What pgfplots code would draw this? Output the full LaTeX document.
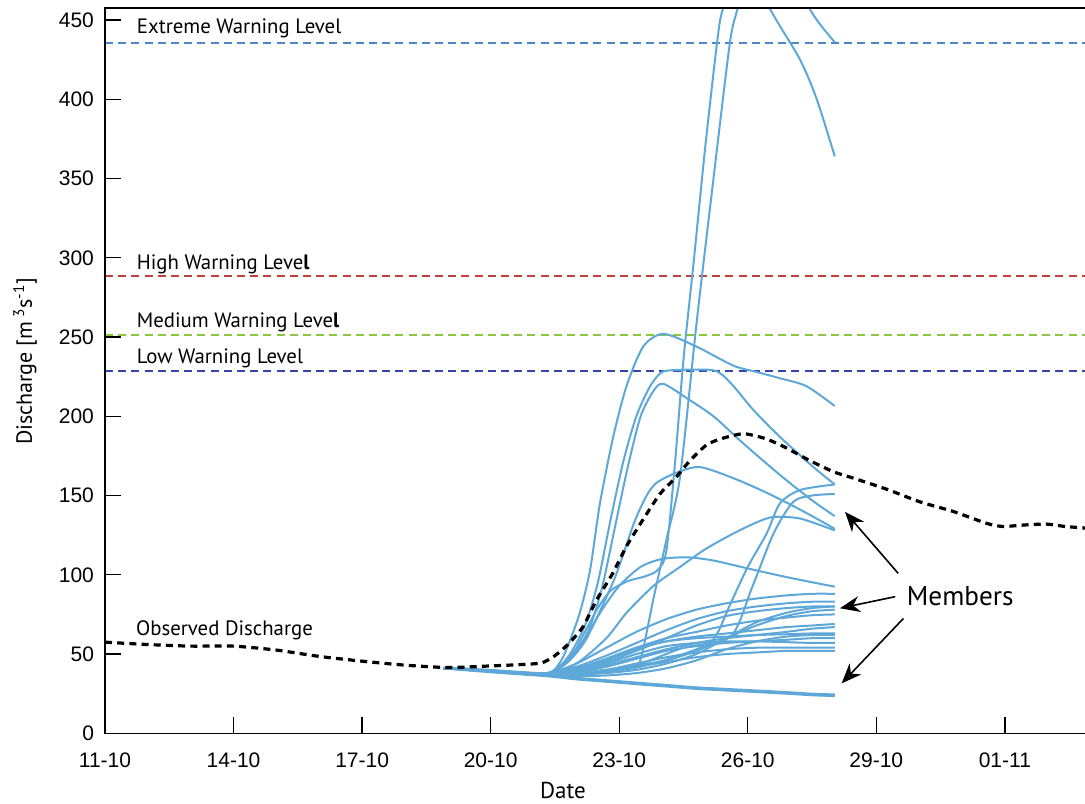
\documentclass[border=0pt]{standalone}
\usepackage{fontspec}
\setmainfont{Liberation Sans}
\newfontfamily\lab{PT Sans}
\usepackage{pgfplots}
\pgfplotsset{compat=1.18}
\usetikzlibrary{arrows.meta,calc}

\definecolor{member}{RGB}{93,168,216}
\definecolor{lvextreme}{RGB}{74,134,200}
\definecolor{lvhigh}{RGB}{192,64,64}
\definecolor{lvmedium}{RGB}{140,198,63}
\definecolor{lvlow}{RGB}{52,68,168}

\pgfplotsset{
  mem/.style={member, line width=1pt, smooth, tension=0.45, no marks},
  level/.style={line width=1pt, dash pattern=on 4pt off 2.6pt, no marks},
}

\begin{document}
\begin{tikzpicture}
\begin{axis}[
  scale only axis, width=490pt, height=362.5pt,
  xmin=0, xmax=22.87, ymin=0, ymax=457.4,
  axis line style={draw=none},
  tick align=inside, tick pos=left,
  major tick length=8pt,
  tick style={black, line width=0.7pt},
  xtick={0,3,6,9,12,15,18,21},
  xticklabels={11-10,14-10,17-10,20-10,23-10,26-10,29-10,01-11},
  ytick={0,50,100,150,200,250,300,350,400,450},
  yticklabels={0,50,100,150,200,250,300,350,400,450},
  x tick label style={font=\fontsize{10.5}{12}\selectfont, yshift=-6pt},
  y tick label style={font=\fontsize{10.5}{12}\selectfont, xshift=-2pt},
]
% warning levels
\addplot[level, lvextreme] coordinates {(0,435.5) (22.87,435.5)};
\addplot[level, lvhigh]    coordinates {(0,288.3) (22.87,288.3)};
\addplot[level, lvmedium]  coordinates {(0,251.5) (22.87,251.5)};
\addplot[level, lvlow]     coordinates {(0,228.6) (22.87,228.6)};

% ensemble members
\addplot[mem] coordinates {(7.9,41.5)(9,40)(10.3,38)(10.6,44)(10.8,55)(11.08,76)(11.32,103)(11.55,145)(11.86,187)(12.17,219)(12.56,244)(13.03,252)(13.8,244)(14.66,232)(15.2,228)(15.75,224)(16.37,219)(17.03,206.5)};
\addplot[mem] coordinates {(7.9,41)(9,39.5)(10.3,37.5)(10.8,48)(11.2,68)(11.5,95)(11.8,135)(12.1,172)(12.4,200)(12.7,218)(12.95,227)(13.2,229)(14.2,229)(14.6,221)(15.13,204)(15.75,187)(16.53,168)(17.03,157)};
\addplot[mem] coordinates {(7.9,41)(9,39.5)(10.3,37.5)(10.9,48)(11.3,66)(11.6,92)(11.9,130)(12.2,168)(12.5,200)(12.8,216)(13.03,220.5)(13.6,211)(14.2,200)(14.85,184)(15.75,163)(16.5,147)(17.03,137)};
\addplot[mem] coordinates {(7.9,41)(9,39.5)(10.3,37.5)(10.8,45)(11.2,58)(11.6,80)(11.94,101)(12.35,133)(12.64,150)(12.87,158)(13.3,164)(13.87,168)(14.66,161)(15.5,151)(16.3,140)(17.03,129)};
\addplot[mem] coordinates {(7.9,41)(9,39.5)(10.3,37.5)(10.9,50)(11.2,64)(11.5,79)(11.8,90)(12.2,96)(12.6,99)(12.9,103)(13.1,115)(13.3,170)(13.5,236)(13.74,298)(14.0,368)(14.28,435)(14.42,457)(14.9,488)(15.2,480)(15.52,457)(16.22,425)(16.61,400)(17.03,364)};
\addplot[mem] coordinates {(7.9,41)(9,39.5)(10.3,37)(11,38)(11.7,40)(12.2,41)(12.48,45)(12.8,85)(13.1,122)(13.42,162)(13.81,260)(14.2,350)(14.58,435)(14.76,457)(15.2,500)(15.7,512)(16.1,490)(16.45,457)(17.03,436)};
\addplot[mem] coordinates {(7.9,41)(9,39.5)(10.3,37.5)(10.8,46)(11.2,60)(11.6,78)(12.0,93)(12.5,105)(13.0,110)(13.6,111)(14.2,109)(15.0,104)(16.0,98)(17.03,92.5)};
\addplot[mem] coordinates {(7.9,41)(9,39.5)(10.3,37)(11.5,38)(12.5,42)(13.5,50)(14.19,59)(14.6,82)(15.0,105)(15.44,126)(15.75,145)(16.22,153.5)(17.03,157)};
\addplot[mem] coordinates {(7.9,41)(9,39.5)(10.3,37)(11.5,38.5)(12.5,44)(13.5,54)(14.6,61)(15.1,92)(15.6,126)(16.06,146)(16.5,150)(17.03,151)};
\addplot[mem] coordinates {(7.9,41)(9,39.5)(10.3,37.5)(11,44)(11.7,60)(12.17,76)(12.8,93)(13.42,105)(14.0,116)(14.66,126)(15.2,133)(15.6,136.5)(16.22,135.5)(17.03,128)};
\addplot[mem] coordinates {(7.9,41)(9,39)(10.3,36.5)(11,35)(11.7,33.5)(12.4,32)(13.1,30.5)(13.8,29)(14.5,28)(15.2,27)(15.9,26)(16.5,25)(17.03,24.5)};
\addplot[mem] coordinates {(7.9,41)(9,38.5)(10.3,36)(11,34)(11.7,32.5)(12.4,31)(13.1,29.5)(13.8,28)(14.5,27)(15.2,26)(15.9,25)(16.5,24)(17.03,23.5)};
\addplot[mem] coordinates {(7.9,41)(9,39.5)(10.3,38)(11,44)(11.7,54)(12.4,64)(13.1,72)(13.8,78)(14.5,82)(15.2,85)(15.9,87)(16.5,88)(17.03,88)};
\addplot[mem] coordinates {(7.9,41)(9,39.5)(10.3,38)(11,42)(11.7,49)(12.4,57)(13.1,65)(13.8,72)(14.5,77)(15.2,80)(15.9,82)(16.5,83)(17.03,83)};
\addplot[mem] coordinates {(7.9,41)(9,39.5)(10.3,37.5)(11,40)(11.7,45)(12.4,52)(13.1,60)(13.8,68)(14.5,74)(15.2,77)(15.9,79)(16.5,80)(17.03,80)};
\addplot[mem] coordinates {(7.9,41)(9,39.5)(10.3,37.5)(11,38)(11.7,40)(12.4,43)(13.1,46)(13.8,52)(14.5,60)(15.2,68)(15.9,74)(16.5,77)(17.03,78)};
\addplot[mem] coordinates {(7.9,41)(9,39.5)(10.3,37.5)(11,41)(11.7,47)(12.4,54)(13.1,60)(13.8,64)(14.5,68)(15.2,71)(15.9,73)(16.5,74.5)(17.03,75)};
\addplot[mem] coordinates {(7.9,41)(9,39.5)(10.3,37.5)(11,40)(11.7,46)(12.4,53)(13.1,58)(13.8,61)(14.5,63)(15.2,65)(15.9,67)(16.5,68)(17.03,69)};
\addplot[mem] coordinates {(7.9,41)(9,39.5)(10.3,37)(11,39)(11.7,43)(12.4,48)(13.1,53)(13.8,57)(14.5,60)(15.2,62)(15.9,64)(16.5,66)(17.03,67)};
\addplot[mem] coordinates {(7.9,41)(9,39.5)(10.3,37)(11,40)(11.7,47)(12.4,54)(13.1,58)(13.8,60)(14.5,61)(15.2,62)(15.9,62.5)(16.5,63)(17.03,63)};
\addplot[mem] coordinates {(7.9,41)(9,39.5)(10.3,37)(11,38.5)(11.7,42)(12.4,47)(13.1,52)(13.8,55)(14.5,57)(15.2,58)(15.9,59)(16.5,60)(17.03,60)};
\addplot[mem] coordinates {(7.9,41)(9,39.5)(10.3,37)(11,39)(11.7,44)(12.4,50)(13.1,55)(13.8,57)(14.5,58)(15.2,58)(15.9,57.5)(16.5,57)(17.03,57)};
\addplot[mem] coordinates {(7.9,41)(9,39)(10.3,36.5)(11,37.5)(11.7,40)(12.4,44)(13.1,48)(13.8,51)(14.5,53)(15.2,54)(15.9,54)(16.5,54)(17.03,54)};
\addplot[mem] coordinates {(7.9,41)(9,39)(10.3,36.5)(11,37)(11.7,39)(12.4,42)(13.1,45)(13.8,48)(14.5,50)(15.2,51)(15.9,52)(16.5,52)(17.03,52)};
\addplot[mem] coordinates {(7.9,41)(9,39)(10.3,36.5)(11,36)(11.7,36.5)(12.4,38)(13.1,41)(13.8,46)(14.5,53)(15.2,58)(15.9,61)(16.5,62)(17.03,62)};
\addplot[mem] coordinates {(7.9,41)(9,39.5)(10.3,37)(11,37)(11.7,38)(12.4,40)(13.1,44)(13.8,50)(14.5,60)(15.2,70)(15.9,76)(16.5,79)(17.03,80)};

% observed discharge
\addplot[black, line width=1.6pt, dash pattern=on 3.5pt off 2.6pt, smooth, tension=0.4, no marks] coordinates {
(0,57.5)(1,56)(2,55)(3,55)(4,52.5)(5,48.5)(6,45.5)(7,43)(8,41.5)(9,42.5)(9.8,43.5)(10.2,44.5)
(10.5,49)(10.8,56)(11.15,67)(11.47,84)(11.85,101)(12.17,118)(12.56,135)(12.95,151)(13.34,162)
(13.65,172)(14.04,182)(14.4,186)(14.9,189)(15.4,186)(15.83,181)(16.45,172)(17.0,165)(17.46,161)
(18.24,154)(19.02,146)(19.79,140)(20.57,132.5)(20.95,130.5)(21.5,131.5)(21.97,132)(22.4,130.5)(22.87,129.5)};

% labels
\node[anchor=base west, font=\lab\fontsize{10.4}{12}\selectfont] at (axis cs:0.58,441.2) {Extreme Warning Level};
\node[anchor=base west, font=\lab\fontsize{10.4}{12}\selectfont] at (axis cs:0.58,292.7) {High Warning Leve{\bfseries l}};
\node[anchor=base west, font=\lab\fontsize{10.4}{12}\selectfont] at (axis cs:0.58,256.1) {Medium Warning Leve{\bfseries l}};
\node[anchor=base west, font=\lab\fontsize{10.4}{12}\selectfont] at (axis cs:0.58,233.5) {Low Warning Level};
\node[anchor=base west, font=\lab\fontsize{10.4}{12}\selectfont] at (axis cs:0.56,62.0) {Observed Discharge};
\node[anchor=base west, font=\lab\fontsize{13.6}{16}\selectfont] at (axis cs:18.55,80.9) {Members};

\draw[-{Stealth[length=10pt,width=8pt]}, line width=0.8pt] (axis cs:18.51,100.9) -- (axis cs:17.27,139.7);
\draw[-{Stealth[length=10pt,width=8pt]}, line width=0.8pt] (axis cs:18.44,86.2) -- (axis cs:17.15,78.9);
\draw[-{Stealth[length=10pt,width=8pt]}, line width=0.8pt] (axis cs:18.63,72.4) -- (axis cs:17.19,31.5);

\coordinate (O) at (rel axis cs:0,0);
\coordinate (R) at (rel axis cs:1,0);
\coordinate (T) at (rel axis cs:0,1);
\coordinate (TR) at (rel axis cs:1,1);
\end{axis}
% frame: left, bottom and top
\draw[black, line width=0.8pt] (TR) -- (T) -- (O) -- (R);
\node[anchor=base, font=\lab\fontsize{11.5}{14}\selectfont] at ($(O)+(229pt,-32.5pt)$) {Date};
\node[anchor=base, rotate=90, font=\lab\fontsize{11}{13}\selectfont] at ($(O)+(-36.5pt,186pt)$) {Discharge [m\,\textsuperscript{3}s\textsuperscript{-1}]};
\pgfresetboundingbox
\path[use as bounding box] ($(O)+(-52.5pt,-34.85pt)$) rectangle ($(O)+(490pt,366.65pt)$);
\end{tikzpicture}
\end{document}
